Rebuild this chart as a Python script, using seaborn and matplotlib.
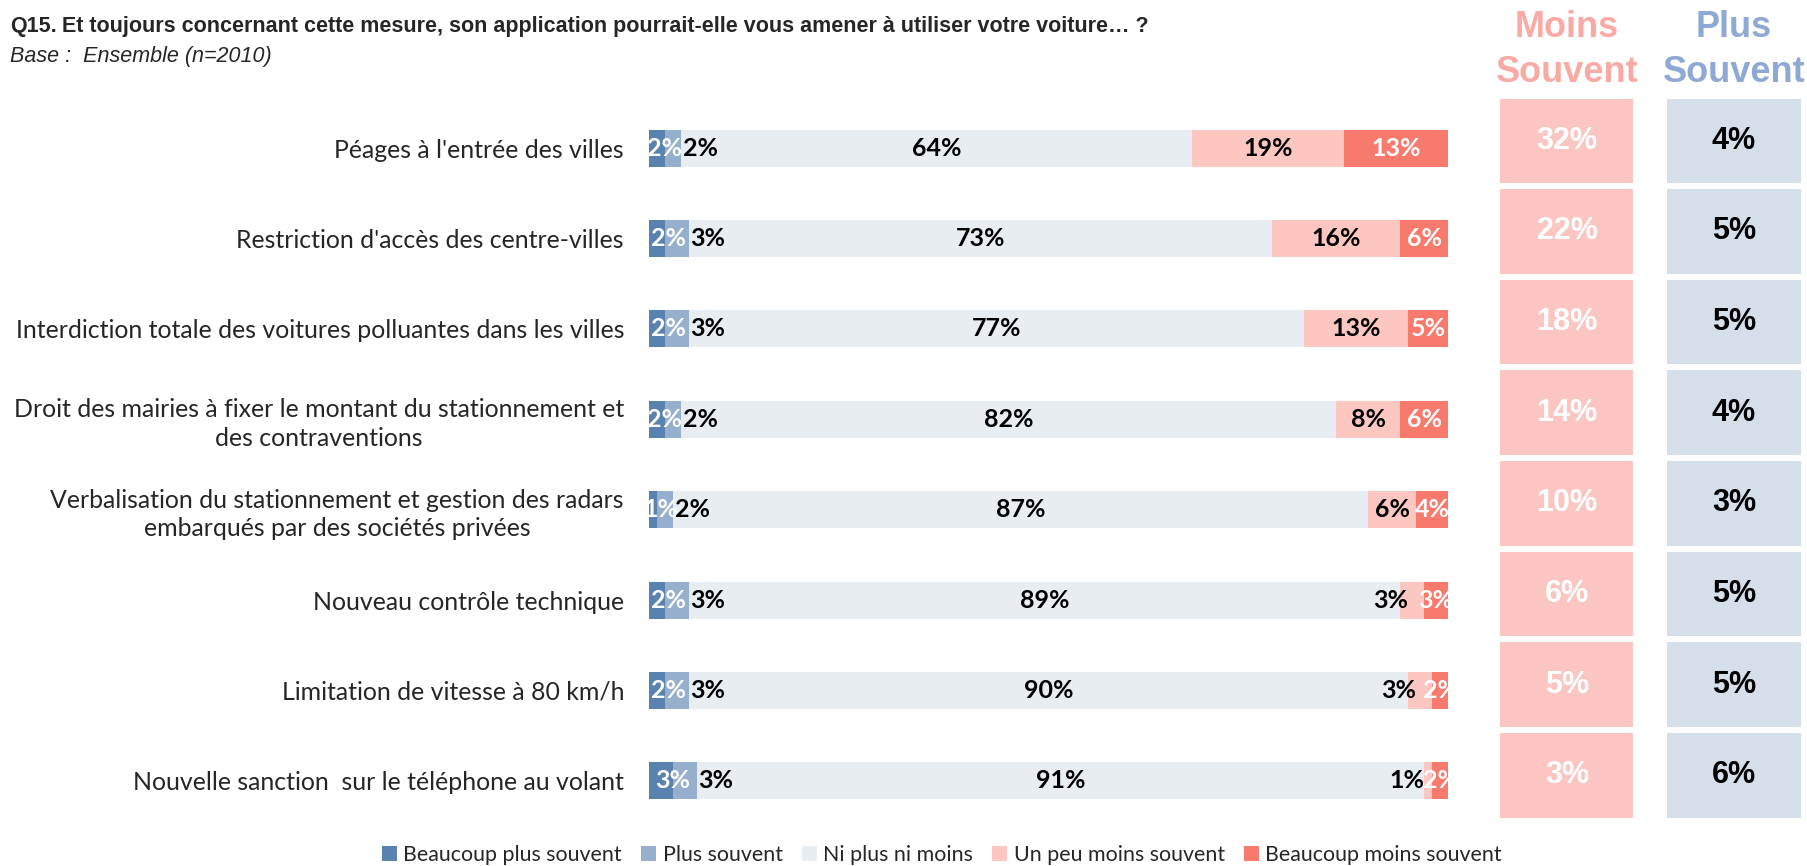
import numpy as np
import pandas as pd
import matplotlib
matplotlib.use("Agg")
import matplotlib.pyplot as plt
from matplotlib.colors import ListedColormap
from matplotlib.patches import Patch
import seaborn as sns

# --- data ---
mesures = [
    "Péages à l'entrée des villes",
    "Restriction d'accès des centre-villes",
    "Interdiction totale des voitures polluantes dans les villes",
    "Droit des mairies à fixer le montant du stationnement et\ndes contraventions",
    "Verbalisation du stationnement et gestion des radars\nembarqués par des sociétés privées",
    "Nouveau contrôle technique",
    "Limitation de vitesse à 80 km/h",
    "Nouvelle sanction  sur le téléphone au volant",
]
beaucoup_plus = [2, 2, 2, 2, 1, 2, 2, 3]
plus_souvent = [2, 3, 3, 2, 2, 3, 3, 3]
ni_plus_ni_moins = [64, 73, 77, 82, 87, 89, 90, 91]
un_peu_moins = [19, 16, 13, 8, 6, 3, 3, 1]
beaucoup_moins = [13, 6, 5, 6, 4, 3, 2, 2]
total_moins = [32, 22, 18, 14, 10, 6, 5, 3]
total_plus = [4, 5, 5, 4, 3, 5, 5, 6]

series_names = ["Beaucoup plus souvent", "Plus souvent", "Ni plus ni moins",
                "Un peu moins souvent", "Beaucoup moins souvent"]
colors = ["#5A82B0", "#95AFCD", "#E8EDF2", "#FCC6C1", "#F87A6D"]

sns.set_style("white")
plt.rcParams["font.family"] = ["Lato", "DejaVu Sans"]

W, H = 1808, 866
fig = plt.figure(figsize=(W / 100, H / 100), dpi=100)

df = pd.DataFrame({
    "mesure": mesures,
    "s1": beaucoup_plus, "s2": plus_souvent, "s3": ni_plus_ni_moins,
    "s4": un_peu_moins, "s5": beaucoup_moins,
})
cols = ["s1", "s2", "s3", "s4", "s5"]
cum = df[cols].cumsum(axis=1)

# --- stacked bars (cumulative totals drawn back to front) ---
ax = fig.add_axes([649 / W, 1 - 826 / H, 799 / W, 723 / H])
for col, c in zip(reversed(cols), reversed(colors)):
    sns.barplot(x=cum[col], y=df["mesure"], color=c, orient="h", width=0.41,
                saturation=1, ax=ax, edgecolor="none")
ax.set_xlim(0, 100)
ax.set_ylim(len(mesures) - 0.5, -0.5)
ax.set_xlabel("")
ax.set_ylabel("")
ax.set_xticks([])
sns.despine(ax=ax, left=True, bottom=True)
ax.tick_params(axis="y", length=0, pad=18, labelsize=17.9)
for t in ax.get_yticklabels():
    t.set_multialignment("center")
    t.set_linespacing(1.3)

lab = dict(fontsize=18, fontweight="bold", va="center")
for i in range(len(mesures)):
    v1, v2, v3, v4, v5 = (df.loc[i, c] for c in cols)
    ax.text((v1 + v2) / 2, i, f"{v1}%", color="white", ha="center", **lab)
    ax.text(v1 + v2 + 0.2, i, f"{v2}%", color="black", ha="left", **lab)
    left3 = v1 + v2
    ax.text(left3 + v3 / 2, i, f"{v3}%", color="black", ha="center", **lab)
    left4 = left3 + v3
    if v4 >= 5:
        ax.text(left4 + v4 / 2, i, f"{v4}%", color="black", ha="center", **lab)
    else:
        ax.text(left4 + v4 / 2 - 0.5, i, f"{v4}%", color="black", ha="right", **lab)
    left5 = left4 + v4
    ax.text(left5 + v5 / 2, i, f"{v5}%", color="white", ha="center", **lab)

# --- summary boxes on the right ---
box_font = dict(fontsize=22, fontweight="bold", family="Liberation Sans")
axm = fig.add_axes([1497.5 / W, 1 - 820.5 / H, 139 / W, 725 / H])
sns.heatmap(np.array(total_moins).reshape(-1, 1), ax=axm,
            cmap=ListedColormap(["#FBC6C2"]), cbar=False,
            annot=np.array([f"{v}%" for v in total_moins]).reshape(-1, 1), fmt="",
            linewidths=3, linecolor="white",
            annot_kws=dict(color="white", **box_font))
axp = fig.add_axes([1664.5 / W, 1 - 820.5 / H, 139 / W, 725 / H])
sns.heatmap(np.array(total_plus).reshape(-1, 1), ax=axp,
            cmap=ListedColormap(["#D5DFEA"]), cbar=False,
            annot=np.array([f"{v}%" for v in total_plus]).reshape(-1, 1), fmt="",
            linewidths=3, linecolor="white",
            annot_kws=dict(color="black", **box_font))
for a in (axm, axp):
    a.set_xticks([])
    a.set_yticks([])

head = dict(fontsize=26, fontweight="bold", family="Liberation Sans",
            ha="center", va="baseline")
fig.text(1567 / W, 1 - 37 / H, "Moins", color="#F9AAA4", **head)
fig.text(1567 / W, 1 - 82 / H, "Souvent", color="#F9AAA4", **head)
fig.text(1734 / W, 1 - 37 / H, "Plus", color="#8FA9D5", **head)
fig.text(1734 / W, 1 - 82 / H, "Souvent", color="#8FA9D5", **head)

# --- title ---
renderer = fig.canvas.get_renderer()
q = fig.text(10 / W, 1 - 32 / H, "Q15.", fontsize=15.5, fontweight="bold",
             family="Liberation Sans", va="baseline")
bb = q.get_window_extent(renderer)
fig.text((bb.x1 + 5) / W, 1 - 32 / H,
         "Et toujours concernant cette mesure, son application pourrait-elle vous amener à utiliser votre voiture… ?",
         fontsize=15.5, fontweight="bold", family="Liberation Sans", va="baseline")
fig.text(10 / W, 1 - 62 / H, "Base :  Ensemble (n=2010)", fontsize=15.5,
         fontstyle="italic", family="Liberation Sans", va="baseline")

# --- legend ---
handles = [Patch(facecolor=c, edgecolor="none", label=n) for c, n in zip(colors, series_names)]
fig.legend(handles=handles, loc="center", bbox_to_anchor=(942 / W, 1 - 855 / H),
           ncol=5, frameon=False, fontsize=15.4, handlelength=0.7, handleheight=0.7,
           handletextpad=0.3, columnspacing=0.9, borderpad=0)

fig.savefig("out.png", dpi=100)
